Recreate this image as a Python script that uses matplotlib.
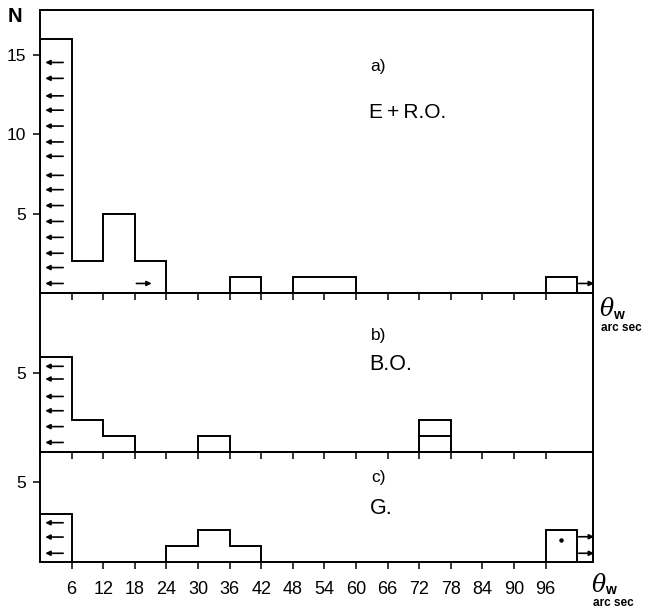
import matplotlib
matplotlib.use("Agg")
import matplotlib.pyplot as plt

plt.rcParams['font.family'] = ['Liberation Sans', 'DejaVu Sans']

W, H = 653, 612

# Bin edges (arc sec)
edges = [0, 6, 12, 18, 24, 30, 36, 42, 48, 54, 60, 66, 72, 78, 84, 90, 96, 102]
xticks = [6, 12, 18, 24, 30, 36, 42, 48, 54, 60, 66, 72, 78, 84, 90, 96]

# Counts per bin
counts_a = [16, 2, 5, 2, 0, 0, 1, 0, 1, 1, 0, 0, 0, 0, 0, 0, 1]
counts_b = [6, 2, 1, 0, 0, 1, 0, 0, 0, 0, 0, 0, 2, 0, 0, 0, 0]
counts_c = [3, 0, 0, 0, 1, 2, 1, 0, 0, 0, 0, 0, 0, 0, 0, 0, 2]

# Sub-divisions inside bins (bin left edge, level)
divs_b = [(72, 1)]

# Limit arrows: y levels of left-pointing arrows (first bin) and right-pointing arrows
left_arrows_a = [14.5, 13.5, 12.4, 11.5, 10.5, 9.5, 8.6, 7.4, 6.5, 5.5, 4.5, 3.5, 2.5, 1.6, 0.6]
right_arrows_a = [(18, 0.6), (102, 0.6)]
left_arrows_b = [5.4, 4.6, 3.5, 2.6, 1.6, 0.6]
right_arrows_b = []
left_arrows_c = [2.45, 1.55, 0.53]
right_arrows_c = [(102, 1.57), (102, 0.53)]
dots_c = [(99, 1.36)]

yticks_a = [5, 10, 15]
yticks_b = [5]
yticks_c = [5]

fig = plt.figure(figsize=(W / 100, H / 100), dpi=100)

def fx(px):
    return px / W

def fy(py):
    return 1 - py / H

x0, x1 = 40, 593
panels = [
    (10, 293, 17.8, counts_a, yticks_a, left_arrows_a, right_arrows_a, [], []),
    (293, 452, 10.02, counts_b, yticks_b, left_arrows_b, right_arrows_b, divs_b, []),
    (452, 561.7, 6.9, counts_c, yticks_c, left_arrows_c, right_arrows_c, [], dots_c),
]

lw = 1.4
aprops = dict(arrowstyle='-|>', color='k', lw=1.2, mutation_scale=7,
              shrinkA=0, shrinkB=0)
axes = []
for i, (top, bot, ymax, counts, yt, la, ra, divs, dots) in enumerate(panels):
    ax = fig.add_axes([fx(x0), fy(bot), fx(x1) - fx(x0), (bot - top) / H])
    ax.patch.set_visible(False)
    ax.set_xlim(0, 105)
    ax.set_ylim(0, ymax)
    ax.stairs(counts, edges, baseline=0, color='k', lw=lw)
    for (xl, lev) in divs:
        ax.plot([xl, xl + 6], [lev, lev], color='k', lw=lw)
    for y in la:
        ax.annotate('', xy=(1.0, y), xytext=(4.4, y), arrowprops=aprops,
                    annotation_clip=False)
    for (xb, y) in ra:
        ax.annotate('', xy=(xb + 3.2, y), xytext=(xb + 0.3, y), arrowprops=aprops,
                    annotation_clip=False)
    for (xd, yd) in dots:
        ax.plot([xd], [yd], 'o', color='k', ms=2.2)
    for s in ax.spines.values():
        s.set_linewidth(lw)
    ax.set_xticks(xticks)
    ax.set_yticks(yt)
    ax.tick_params(axis='both', direction='out', length=5, width=1.1,
                   top=False, right=False)
    ax.tick_params(axis='y', labelsize=12.5, pad=5)
    ax.tick_params(axis='x', labelsize=13, pad=9)
    if i < 2:
        ax.set_xticklabels([])
    for lab in ax.get_yticklabels():
        lab.set_verticalalignment('center_baseline')
    for t in ax.xaxis.get_major_ticks():
        t.tick1line.set_clip_on(False)
    axes.append(ax)

# Panel texts
fig.text(fx(370), fy(67), 'a)', fontsize=12.5, va='center', ha='left')
fig.text(fx(369), fy(112.5), 'E\u2009+\u2009R.O.', fontsize=15, va='center', ha='left')
fig.text(fx(371), fy(335), 'b)', fontsize=12.5, va='center', ha='left')
fig.text(fx(369), fy(365), 'B.O.', fontsize=15.5, va='center', ha='left')
fig.text(fx(371), fy(477.5), 'c)', fontsize=12.5, va='center', ha='left')
fig.text(fx(370), fy(508), 'G.', fontsize=15.5, va='center', ha='left')

# N label
fig.text(fx(8), fy(17), 'N', fontsize=14.5, fontweight='bold', va='center', ha='left')

# theta_w labels
def theta_label(xp, yp):
    fig.text(fx(xp), fy(yp), 'θ', fontsize=17, fontstyle='italic',
             family=['DejaVu Serif'], va='center', ha='left')
    fig.text(fx(xp + 13), fy(yp + 5), 'w', fontsize=10, fontweight='bold',
             va='center', ha='left')
    fig.text(fx(xp + 1), fy(yp + 18), 'arc sec', fontsize=8.5, fontweight='bold',
             va='center', ha='left')

theta_label(600, 310)
theta_label(592, 585)

fig.savefig('out.png', dpi=100)
